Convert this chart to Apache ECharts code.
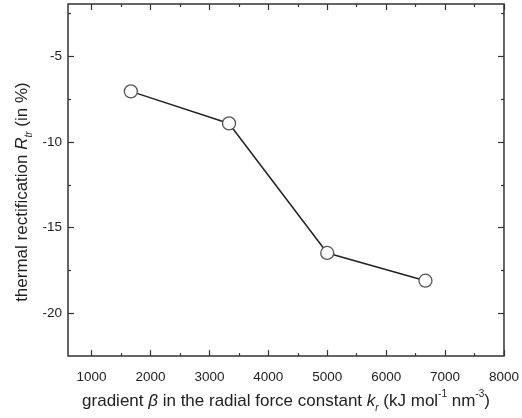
<!DOCTYPE html>
<html><head><meta charset="utf-8">
<script src="https://cdn.jsdelivr.net/npm/echarts@6/dist/echarts.min.js"></script>
<style>html,body{margin:0;padding:0;background:#fff}#c{width:522px;height:418px}</style>
</head><body><div id="c"></div>
<script>
const xValues = [1667, 3333, 5000, 6667];
const yValues = [-7.05, -8.92, -16.48, -18.1];
const xMajorTicks = [1000, 2000, 3000, 4000, 5000, 6000, 7000, 8000];
const xMinorTicks = [1500, 2500, 3500, 4500, 5500, 6500, 7500];
const yMajorTicks = [-20, -15, -10, -5];
const yMinorTicks = [-17.5, -12.5, -7.5, -2.5];
const xRange = [600, 8000];
const yRange = [-22.5, -1.95];

const FONT = 'Liberation Sans, Arial, sans-serif';
const chart = echarts.init(document.getElementById('c'), null, {renderer: 'canvas'});

function xAx(pos, ticks, len, labels, extra) {
  return Object.assign({
    type: 'value', position: pos, min: xRange[0], max: xRange[1],
    axisLine: {show: false}, splitLine: {show: false},
    axisTick: {show: true, inside: true, length: len, customValues: ticks, lineStyle: {color: '#333', width: 1.2}},
    axisLabel: labels ? {show: true, customValues: ticks, formatter: v => String(v), fontFamily: FONT, fontSize: 13.5, color: '#222', margin: 14} : {show: false}
  }, extra || {});
}
function yAx(pos, ticks, len, labels, extra) {
  return Object.assign({
    type: 'value', position: pos, min: yRange[0], max: yRange[1],
    axisLine: {show: false}, splitLine: {show: false},
    axisTick: {show: true, inside: true, length: len, customValues: ticks, lineStyle: {color: '#333', width: 1.2}},
    axisLabel: labels ? {show: true, customValues: ticks, formatter: v => String(v), fontFamily: FONT, fontSize: 13.5, color: '#222', margin: 6} : {show: false}
  }, extra || {});
}

const option = {
  animation: false,
  backgroundColor: '#fff',
  grid: {left: 68, right: 15, top: 4, bottom: 58, show: true, borderColor: '#333', borderWidth: 1.5, backgroundColor: 'transparent'},
  xAxis: [
    xAx('bottom', xMajorTicks, 6, true, {
      name: '{n|gradient }{i|β}{n| in the radial force constant }{i|k}{sub|r}{n| (kJ mol}{sup|-1}{n| nm}{sup|-3}{n|)}',
      nameLocation: 'middle', nameGap: 32,
      nameTextStyle: {
        rich: {
          n: {fontFamily: FONT, fontSize: 17, color: '#222', lineHeight: 24},
          i: {fontFamily: FONT, fontSize: 17, color: '#222', fontStyle: 'italic', lineHeight: 24},
          sub: {fontFamily: FONT, fontSize: 10, color: '#222', fontStyle: 'italic', verticalAlign: 'bottom', lineHeight: 24},
          sup: {fontFamily: FONT, fontSize: 10, color: '#222', verticalAlign: 'top', lineHeight: 24}
        }
      }
    }),
    xAx('bottom', xMinorTicks, 3, false),
    xAx('top', xMajorTicks, 6, false),
    xAx('top', xMinorTicks, 3, false)
  ],
  yAxis: [
    yAx('left', yMajorTicks, 6, true, {
      name: '{n|thermal rectification }{i|R}{sub|tr}{n| (in %)}',
      nameLocation: 'middle', nameGap: 34, nameRotate: 90, nameMoveOverlap: false,
      nameTextStyle: {
        padding: [0, 24, 0, 0],
        rich: {
          n: {fontFamily: FONT, fontSize: 17, color: '#222', lineHeight: 24},
          i: {fontFamily: FONT, fontSize: 17, color: '#222', fontStyle: 'italic', lineHeight: 24},
          sub: {fontFamily: FONT, fontSize: 10, color: '#222', fontStyle: 'italic', verticalAlign: 'bottom', lineHeight: 24}
        }
      }
    }),
    yAx('left', yMinorTicks, 3, false),
    yAx('right', yMajorTicks, 6, false),
    yAx('right', yMinorTicks, 3, false)
  ],
  series: [{
    type: 'line',
    xAxisIndex: 0, yAxisIndex: 0,
    data: xValues.map((x, i) => [x, yValues[i]]),
    symbol: 'circle', symbolSize: 13,
    lineStyle: {color: '#222', width: 1.5},
    itemStyle: {color: '#fff', borderColor: '#555', borderWidth: 1.3},
    z: 3
  }]
};
chart.setOption(option);
</script>
</body></html>
